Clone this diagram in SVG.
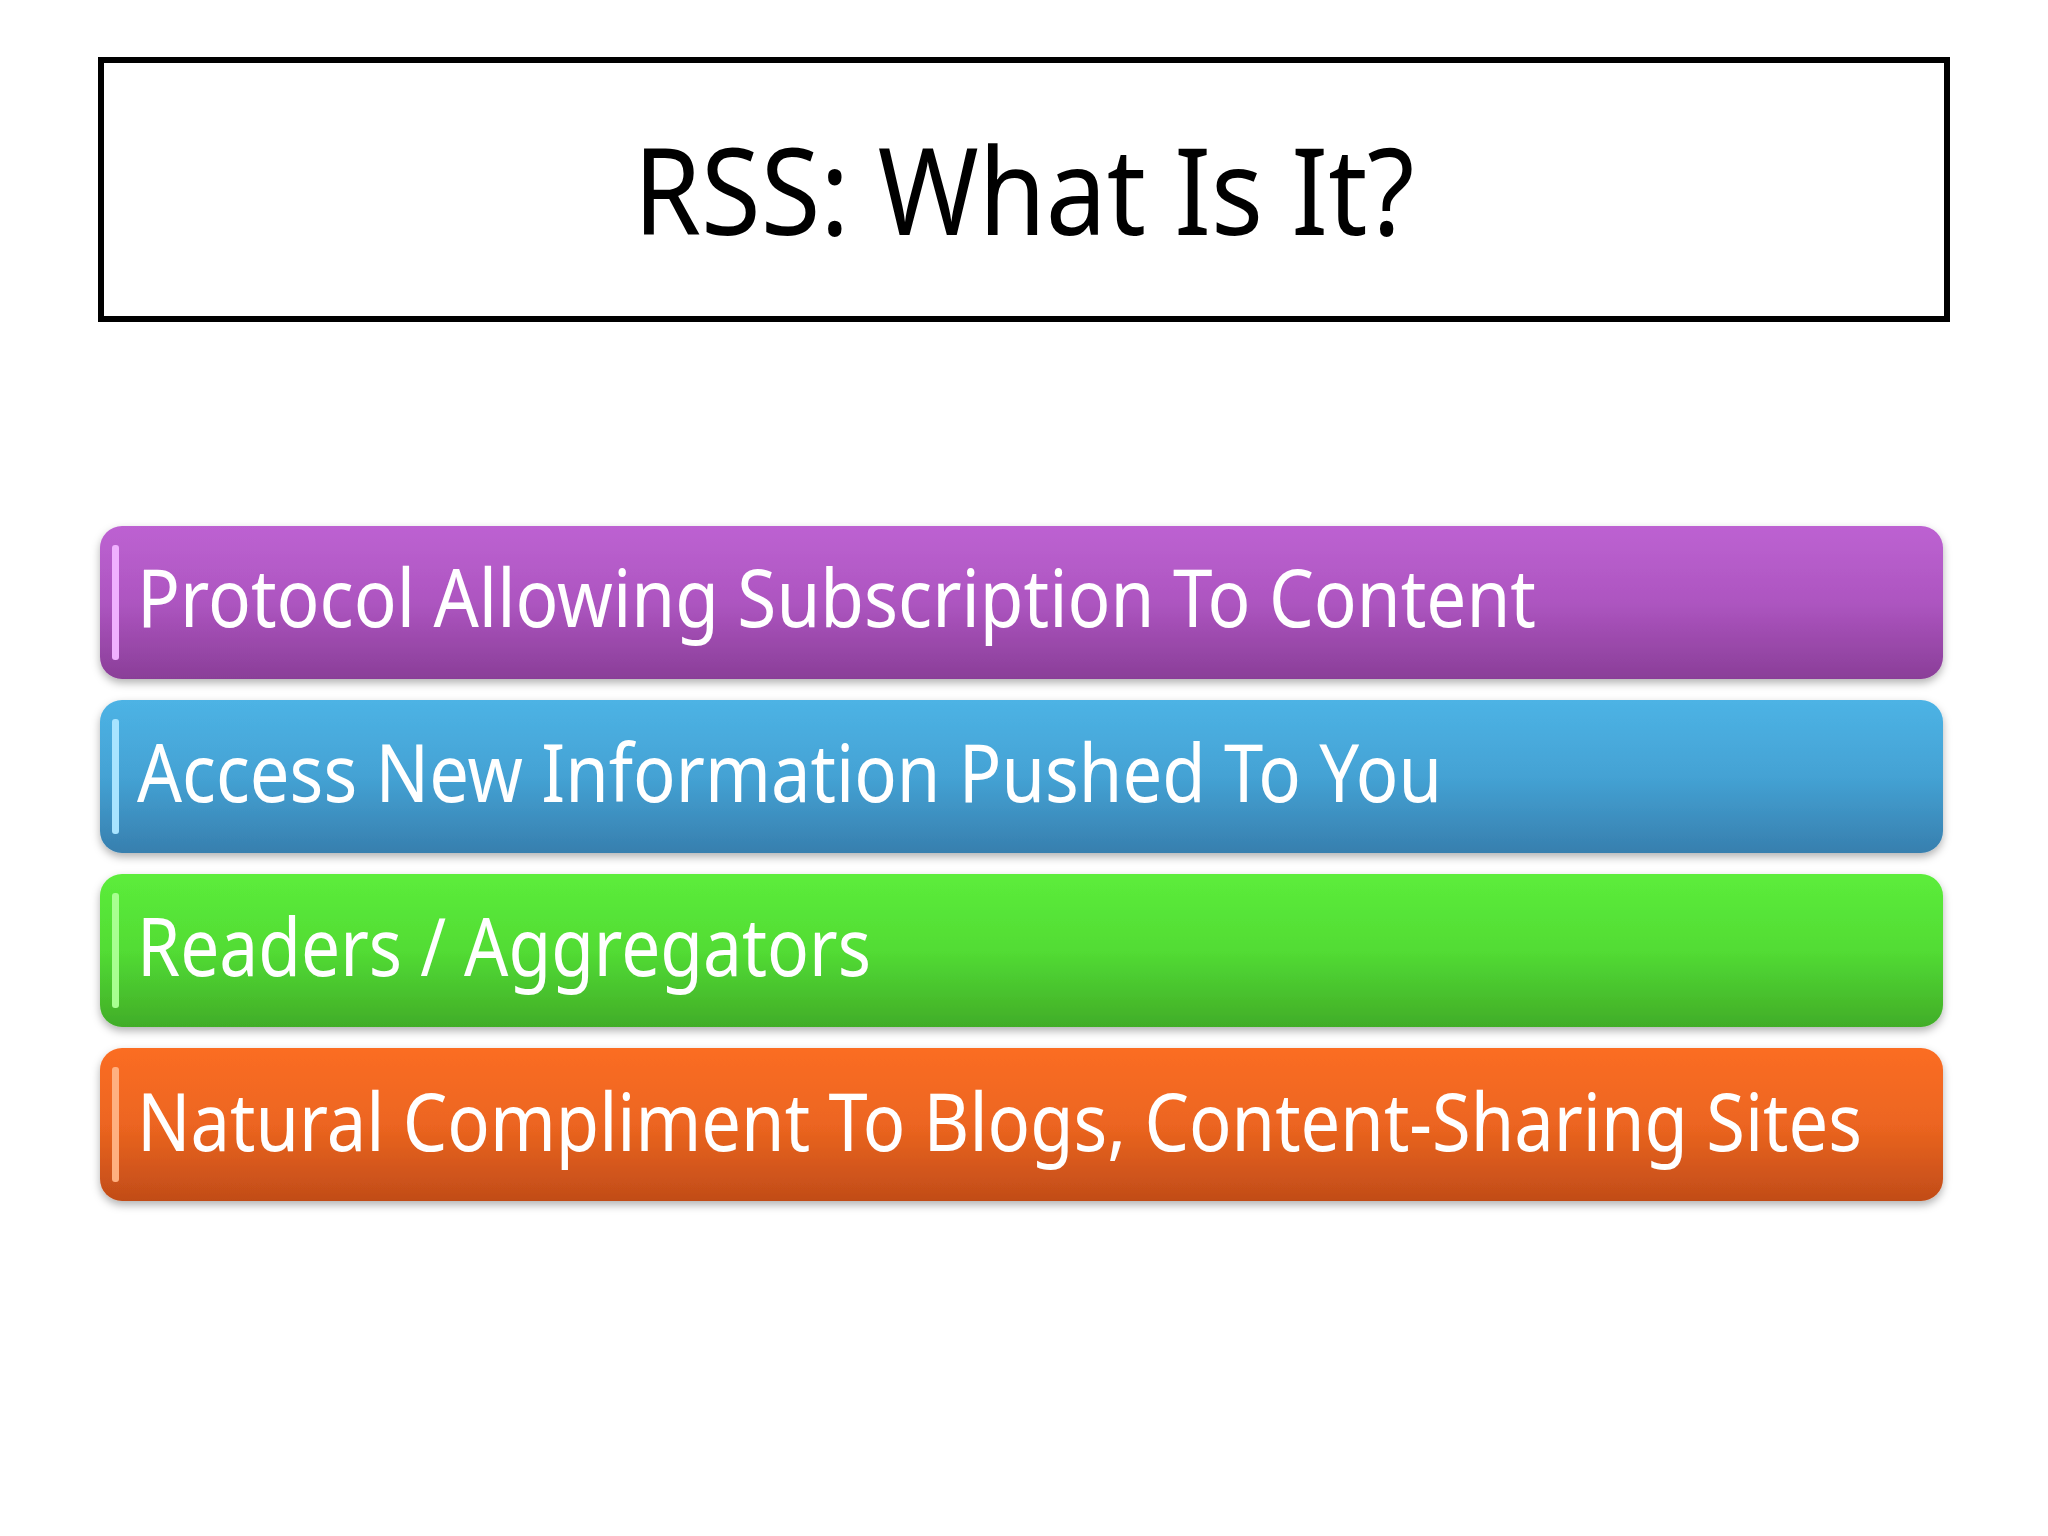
<svg xmlns="http://www.w3.org/2000/svg" width="2048" height="1536" viewBox="0 0 2048 1536">
<style>
.t{font-family:"Noto Sans","Open Sans",sans-serif;fill:#fff;font-size:80px}
.hl{fill:#fff;opacity:0.35}
</style>
<defs>
<linearGradient id="gp" x1="0" y1="0" x2="0" y2="1"><stop offset="0" stop-color="#bd62d2"/><stop offset="0.5" stop-color="#ad55c0"/><stop offset="1" stop-color="#8a3e98"/></linearGradient>
<linearGradient id="gb" x1="0" y1="0" x2="0" y2="1"><stop offset="0" stop-color="#4db3e5"/><stop offset="0.5" stop-color="#44a2d4"/><stop offset="1" stop-color="#377fae"/></linearGradient>
<linearGradient id="gg" x1="0" y1="0" x2="0" y2="1"><stop offset="0" stop-color="#5ced3b"/><stop offset="0.5" stop-color="#52dc34"/><stop offset="1" stop-color="#41ad28"/></linearGradient>
<linearGradient id="go" x1="0" y1="0" x2="0" y2="1"><stop offset="0" stop-color="#fb6d24"/><stop offset="0.5" stop-color="#ec6520"/><stop offset="1" stop-color="#c14c18"/></linearGradient>
<filter id="sh" x="-5%" y="-20%" width="110%" height="140%"><feDropShadow dx="0" dy="4" stdDeviation="4" flood-opacity="0.3"/></filter>
</defs>
<rect width="2048" height="1536" fill="#fff"/>
<g id="title">
<rect x="101" y="60" width="1846" height="259" fill="#fff" stroke="#000" stroke-width="6"/>
<text x="1024" y="235" text-anchor="middle" font-family="'Noto Sans','Open Sans',sans-serif" font-size="120" fill="#000" textLength="781" lengthAdjust="spacingAndGlyphs">RSS: What Is It?</text>
</g>
<g id="bar1" filter="url(#sh)">
<rect x="100" y="526" width="1843" height="153" rx="22" fill="url(#gp)"/>
<rect x="112" y="545" width="7" height="115" rx="3" fill="#f0b0ff"/>
<text class="t" x="137" y="627" textLength="1399" lengthAdjust="spacingAndGlyphs">Protocol Allowing Subscription To Content</text>
</g>
<g id="bar2" filter="url(#sh)">
<rect x="100" y="700" width="1843" height="153" rx="22" fill="url(#gb)"/>
<rect x="112" y="719" width="7" height="115" rx="3" fill="#a8e4ff"/>
<text class="t" x="137" y="802" textLength="1305" lengthAdjust="spacingAndGlyphs">Access New Information Pushed To You</text>
</g>
<g id="bar3" filter="url(#sh)">
<rect x="100" y="874" width="1843" height="153" rx="22" fill="url(#gg)"/>
<rect x="112" y="893" width="7" height="115" rx="3" fill="#a8ff90"/>
<text class="t" x="137" y="976" textLength="734" lengthAdjust="spacingAndGlyphs">Readers / Aggregators</text>
</g>
<g id="bar4" filter="url(#sh)">
<rect x="100" y="1048" width="1843" height="153" rx="22" fill="url(#go)"/>
<rect x="112" y="1067" width="7" height="115" rx="3" fill="#ffb080"/>
<text class="t" x="137" y="1151" textLength="1725" lengthAdjust="spacingAndGlyphs">Natural Compliment To Blogs, Content-Sharing Sites</text>
</g>
<g id="connectors"/>
</svg>
